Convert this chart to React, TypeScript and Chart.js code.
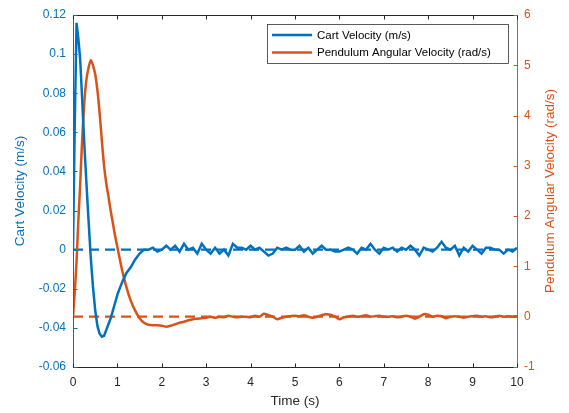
import React, { useEffect, useRef } from "react";
import { Chart, registerables } from "chart.js";

Chart.register(...registerables);

const BLUE = "#0072BD";
const ORANGE = "#D95319";
const DARK = "#262626";
const FONT = "'Liberation Sans', Arial, Helvetica, sans-serif";

const timeS = [
  0, 0.04, 0.08, 0.12, 0.16, 0.2, 0.25, 0.3, 0.35, 0.4, 0.45, 0.5, 0.55, 0.6, 0.65, 0.7, 0.75, 0.8, 0.85, 0.9, 0.95,
  1.0, 1.1, 1.2, 1.3, 1.4, 1.5, 1.6, 1.7, 1.8, 1.9, 2.0, 2.1, 2.2, 2.3, 2.4, 2.5, 2.6, 2.7, 2.8, 2.9,
  3.0, 3.1, 3.2, 3.3, 3.4, 3.5, 3.6, 3.7, 3.8, 3.9, 4.0, 4.1, 4.2, 4.3, 4.4, 4.5, 4.6, 4.7, 4.8, 4.9,
  5.0, 5.1, 5.2, 5.3, 5.4, 5.5, 5.6, 5.7, 5.8, 5.9, 6.0, 6.1, 6.2, 6.3, 6.4, 6.5, 6.6, 6.7, 6.8, 6.9,
  7.0, 7.1, 7.2, 7.3, 7.4, 7.5, 7.6, 7.7, 7.8, 7.9, 8.0, 8.1, 8.2, 8.3, 8.4, 8.5, 8.6, 8.7, 8.8, 8.9,
  9.0, 9.1, 9.2, 9.3, 9.4, 9.5, 9.6, 9.7, 9.8, 9.9, 10.0,
];

const cartVelocity = [
  0, 0.065, 0.116, 0.108, 0.098, 0.08, 0.056, 0.035, 0.015, -0.004, -0.019, -0.031, -0.039, -0.043, -0.0445, -0.044, -0.041, -0.038, -0.035, -0.031, -0.027,
  -0.023, -0.017, -0.012, -0.009, -0.005, -0.002, 0.0, 0.0, 0.001, -0.001, 0.0, 0.002, 0.0, 0.002, -0.001, 0.003, 0.0, 0.001, -0.002, 0.003,
  0.0, -0.002, 0.001, -0.002, 0.0, -0.003, 0.003, 0.001, 0.001, 0.0, 0.002, 0.0, 0.001, -0.001, -0.003, -0.002, 0.001, 0.0, 0.001, 0.0,
  0.0, 0.002, -0.001, 0.001, -0.002, 0.0, 0.002, 0.0, 0.0, -0.001, -0.001, 0.0, 0.001, 0.0, -0.002, 0.001, 0.0, 0.003, 0.0, -0.002,
  0.001, 0.0, 0.001, -0.001, 0.001, 0.0, 0.002, 0.0, -0.003, 0.001, 0.0, -0.001, 0.001, 0.004, 0.001, 0.0, 0.002, -0.003, 0.001, -0.001,
  0.002, 0.0, -0.002, 0.001, 0.001, 0.0, 0.0, -0.002, 0.0, -0.001, 0.001,
];

const pendulumVelocity = [
  0, 0.5, 1.1, 1.9, 2.6, 3.4, 4.2, 4.7, 4.95, 5.1, 5.0, 4.82, 4.5, 4.05, 3.5, 3.0, 2.65, 2.38, 2.1, 1.85, 1.6,
  1.38, 0.95, 0.6, 0.32, 0.12, -0.03, -0.12, -0.16, -0.17, -0.17, -0.18, -0.2, -0.18, -0.15, -0.12, -0.1, -0.07, -0.05, -0.04, -0.03,
  -0.02, 0.0, -0.02, 0.0, -0.01, 0.02, 0.0, -0.01, 0.0, 0.0, -0.01, 0.02, 0.0, 0.06, 0.03, 0.0, -0.05, -0.02, 0.0, 0.01,
  0.02, 0.01, 0.03, 0.0, -0.02, 0.0, 0.03, 0.05, 0.04, 0.0, -0.05, -0.01, 0.0, 0.02, 0.0, 0.01, 0.03, 0.0, 0.01, 0.02,
  0.0, 0.0, 0.01, -0.01, 0.0, 0.02, 0.0, -0.04, 0.0, 0.05, 0.04, 0.0, 0.02, 0.01, -0.03, 0.0, 0.01, 0.0, -0.02, 0.0,
  0.01, 0.02, 0.0, 0.01, -0.01, 0.0, 0.02, 0.0, 0.01, 0.0, 0.01,
];

const xTicks = [0, 1, 2, 3, 4, 5, 6, 7, 8, 9, 10];
const leftTicks = [-0.06, -0.04, -0.02, 0, 0.02, 0.04, 0.06, 0.08, 0.1, 0.12];
const leftTickLabels = ["-0.06", "-0.04", "-0.02", "0", "0.02", "0.04", "0.06", "0.08", "0.1", "0.12"];
const rightTicks = [-1, 0, 1, 2, 3, 4, 5, 6];
const refTime = [0, 10];
const refZero = [0, 0];

const legendItems = ["Cart Velocity (m/s)", "Pendulum Angular Velocity (rad/s)"];
const rightTitle = "Pendulum Angular Velocity (rad/s)";

const boxPlugin = {
  id: "matlabBox",
  afterDatasetsDraw(chart: any) {
    const { ctx, chartArea: a, scales } = chart;
    ctx.save();
    ctx.lineWidth = 1;
    const line = (x1: number, y1: number, x2: number, y2: number, c: string) => {
      ctx.strokeStyle = c;
      ctx.beginPath();
      ctx.moveTo(x1, y1);
      ctx.lineTo(x2, y2);
      ctx.stroke();
    };
    const L = Math.round(a.left) + 0.5;
    const R = Math.round(a.right) + 0.5;
    const T = Math.round(a.top) + 0.5;
    const B = Math.round(a.bottom) + 0.5;
    line(L, T, R, T, DARK);
    line(L, B, R, B, DARK);
    line(L, T, L, B, BLUE);
    line(R, T, R, B, ORANGE);
    const tl = 4;
    xTicks.forEach((v) => {
      const x = Math.round(scales.x.getPixelForValue(v)) + 0.5;
      line(x, B, x, B - tl, DARK);
      line(x, T, x, T + tl, DARK);
    });
    leftTicks.forEach((v) => {
      const y = Math.round(scales.y.getPixelForValue(v)) + 0.5;
      line(L, y, L + tl, y, BLUE);
    });
    rightTicks.forEach((v) => {
      const y = Math.round(scales.y1.getPixelForValue(v)) + 0.5;
      line(R, y, R - tl, y, ORANGE);
    });

    // right axis title, reading bottom-to-top
    ctx.save();
    ctx.translate(550, (a.top + a.bottom) / 2);
    ctx.rotate(-Math.PI / 2);
    ctx.font = `13.5px ${FONT}`;
    ctx.fillStyle = ORANGE;
    ctx.textAlign = "center";
    ctx.textBaseline = "middle";
    ctx.fillText(rightTitle, 0, 0);
    ctx.restore();

    // legend
    const lx = 267.5, ly = 24.5, lw = 241, lh = 39;
    ctx.fillStyle = "#ffffff";
    ctx.fillRect(lx, ly, lw, lh);
    ctx.strokeStyle = "#262626";
    ctx.lineWidth = 0.75;
    ctx.strokeRect(lx, ly, lw, lh);
    const colors = [BLUE, ORANGE];
    const rows = [35, 52.5];
    ctx.font = `11.5px ${FONT}`;
    ctx.textBaseline = "middle";
    ctx.textAlign = "left";
    legendItems.forEach((t, i) => {
      ctx.strokeStyle = colors[i];
      ctx.lineWidth = 2.5;
      ctx.beginPath();
      ctx.moveTo(272, rows[i]);
      ctx.lineTo(312, rows[i]);
      ctx.stroke();
      ctx.fillStyle = "#000000";
      ctx.fillText(t, 317, rows[i] + 0.5);
    });
    ctx.restore();
  },
};

export default function App() {
  const ref = useRef<HTMLCanvasElement | null>(null);

  useEffect(() => {
    document.body.style.margin = "0";
    const canvas = ref.current;
    if (!canvas) return;
    const chart = new Chart(canvas, {
      type: "line",
      data: {
        datasets: [
          {
            label: legendItems[0],
            data: timeS.map((t, i) => ({ x: t, y: cartVelocity[i] })),
            borderColor: BLUE,
            borderWidth: 2.5,
            pointRadius: 0,
            tension: 0,
            yAxisID: "y",
          },
          {
            label: legendItems[1],
            data: timeS.map((t, i) => ({ x: t, y: pendulumVelocity[i] })),
            borderColor: ORANGE,
            borderWidth: 2.5,
            pointRadius: 0,
            tension: 0.2,
            yAxisID: "y1",
          },
          {
            label: "cart ref",
            data: refTime.map((t, i) => ({ x: t, y: refZero[i] })),
            borderColor: BLUE,
            borderWidth: 2.2,
            borderDash: [10, 6],
            pointRadius: 0,
            yAxisID: "y",
          },
          {
            label: "pend ref",
            data: refTime.map((t, i) => ({ x: t, y: refZero[i] })),
            borderColor: ORANGE,
            borderWidth: 2.2,
            borderDash: [10, 6],
            pointRadius: 0,
            yAxisID: "y1",
          },
        ],
      },
      options: {
        animation: false,
        responsive: false,
        layout: { padding: { top: 15, left: 12, right: 0, bottom: 0 } },
        plugins: { legend: { display: false }, tooltip: { enabled: false } },
        scales: {
          x: {
            type: "linear",
            min: 0,
            max: 10,
            afterBuildTicks: (s: any) => {
              s.ticks = xTicks.map((v) => ({ value: v }));
            },
            afterFit: (s: any) => {
              s.height = 46;
            },
            grid: { display: false, drawTicks: false },
            border: { display: false },
            ticks: { color: DARK, padding: 8, font: { family: FONT, size: 12 }, maxRotation: 0, callback: (v: any) => String(v) },
            title: { display: true, text: "Time (s)", color: DARK, font: { family: FONT, size: 13.5 }, padding: { top: 4, bottom: 4 } },
          },
          y: {
            type: "linear",
            position: "left",
            min: -0.06,
            max: 0.12,
            afterBuildTicks: (s: any) => {
              s.ticks = leftTicks.map((v) => ({ value: v }));
            },
            afterFit: (s: any) => {
              s.width = 61;
            },
            grid: { display: false, drawTicks: false },
            border: { display: false },
            ticks: {
              color: BLUE,
              padding: 7,
              font: { family: FONT, size: 12 },
              callback: (v: any) => {
                const i = leftTicks.findIndex((t) => Math.abs(t - v) < 1e-9);
                return i >= 0 ? leftTickLabels[i] : "";
              },
            },
            title: { display: true, text: "Cart Velocity (m/s)", color: BLUE, font: { family: FONT, size: 13.5 }, padding: { top: 0, bottom: 4 } },
          },
          y1: {
            type: "linear",
            position: "right",
            min: -1,
            max: 6,
            afterBuildTicks: (s: any) => {
              s.ticks = rightTicks.map((v) => ({ value: v }));
            },
            afterFit: (s: any) => {
              s.width = 52;
            },
            grid: { display: false, drawTicks: false },
            border: { display: false },
            ticks: { color: ORANGE, padding: 7, font: { family: FONT, size: 12 }, callback: (v: any) => String(v) },
            title: { display: false },
          },
        },
      },
      plugins: [boxPlugin],
    } as any);
    return () => chart.destroy();
  }, []);

  return (
    <div style={{ width: 569, height: 413, background: "#ffffff" }}>
      <canvas ref={ref} width={569} height={413} style={{ display: "block" }} />
    </div>
  );
}
